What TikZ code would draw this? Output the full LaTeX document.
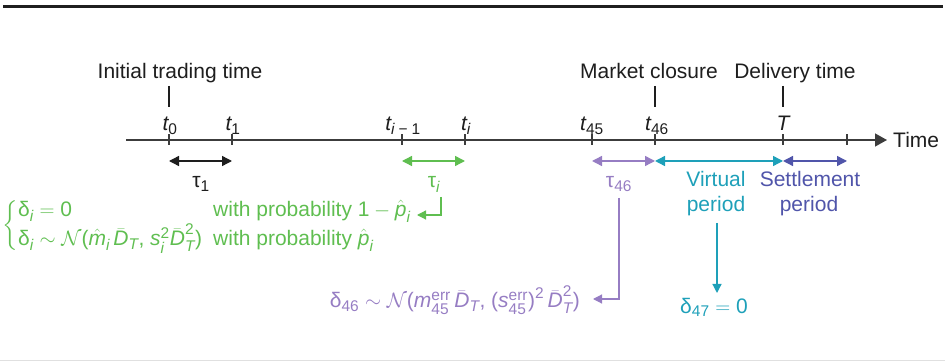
\documentclass[tikz,border=0pt]{standalone}
\usepackage{amsmath}
\usepackage{fontspec}
\setmainfont{Liberation Sans}
\usetikzlibrary{arrows.meta,calc}
\DeclareMathSizes{21}{21}{15.5}{12}
\definecolor{txt}{RGB}{30,30,30}
\definecolor{axc}{RGB}{60,60,60}
\definecolor{cgreen}{RGB}{95,190,80}
\definecolor{cpurple}{RGB}{150,125,195}
\definecolor{cteal}{RGB}{30,160,185}
\definecolor{csettle}{RGB}{80,85,170}
\newcommand\vmi[1]{\text{\itshape #1}}
\newcommand\vmr[1]{\text{#1}}
\begin{document}
\begin{tikzpicture}[x=1pt,y=-1pt,
  every node/.style={font=\fontsize{21}{25}\selectfont, inner sep=0pt, text=txt},
  axisline/.style={draw=axc, line width=1.3pt},
  ticky/.style={draw=axc, line width=1.2pt},
  dbl/.style={line width=1.4pt, {Triangle[length=10pt,width=10pt]}-{Triangle[length=10pt,width=10pt]}},
  conn/.style={draw=txt, line width=1.1pt},
  elbow/.style={line width=1.2pt, -{Triangle[length=9pt,width=9pt]}},
]
\useasboundingbox (0,0) rectangle (945,363);
% frame rules
\draw[line width=2.6pt, draw=black!88] (3,6.5) -- (943,6.5);
\draw[line width=1.5pt, draw=black!12] (0,360.5) -- (945,360.5);

% axis
\coordinate (ax0) at (126,140);
\coordinate (ax1) at (887,140);
\draw[axisline, -{Triangle[length=12pt,width=13pt]}] (ax0) -- (ax1);
\node[anchor=base west] (time) at (893,148) {Time};

\foreach \n/\x in {k0/169,k1/232,k2/402,k3/465,k4/592,k5/655,k6/783,k7/847}{
  \coordinate (\n) at (\x,140);
  \draw[ticky] ($(\n)+(0,-5.5)$) -- ($(\n)+(0,5.5)$);
}

% tick labels
\node[anchor=base] (lt0) at (170,130.5) {$\vmi{t}_{\vmr{0}}$};
\node[anchor=base] (lt1) at (233,130.5) {$\vmi{t}_{\vmr{1}}$};
\node[anchor=base] (lti1) at (403,130.5) {$\vmi{t}_{\vmi{i}\;\vmr{−}\;\vmr{1}}$};
\node[anchor=base] (lti) at (466,130.5) {$\vmi{t}_{\vmi{i}}$};
\node[anchor=base] (lt45) at (592,130.5) {$\vmi{t}_{\vmr{45}}$};
\node[anchor=base] (lt46) at (657,130.5) {$\vmi{t}_{\vmr{46}}$};
\node[anchor=base] (lT) at (783,130.5) {$\vmi{T}$};

% event labels
\node[anchor=base] (init) at (180,79) {Initial trading time};
\node[anchor=base] (mclose) at (649,79) {Market closure};
\node[anchor=base] (deliv) at (795,79) {Delivery time};
\coordinate (v0a) at (169,86); \coordinate (v0b) at (169,107);
\coordinate (v1a) at (655,86); \coordinate (v1b) at (655,107);
\coordinate (v2a) at (783,86); \coordinate (v2b) at (783,107);
\draw[conn] (v0a) -- (v0b);
\draw[conn] (v1a) -- (v1b);
\draw[conn] (v2a) -- (v2b);

% interval arrows
\foreach \n/\x in {d0/169,d1/232,d2/402,d3/465,d4/592,d5/655,d6/783,d7/847}{
  \coordinate (\n) at (\x,161);
}
\draw[dbl, draw=txt] (d0) -- (d1);
\draw[dbl, draw=cgreen] (d2) -- (d3);
\draw[dbl, draw=cpurple] (d4) -- (d5);
\draw[dbl, draw=cteal] (d5) -- (d6);
\draw[dbl, draw=csettle] (d6) -- (d7);

% tau labels
\node[anchor=base] (tau1) at (201,188) {$\vmr{τ}_{\vmr{1}}$};
\node[anchor=base, text=cgreen] (taui) at (434,188) {$\vmr{τ}_{\vmi{i}}$};
\node[anchor=base, text=cpurple] (tau46) at (619,188) {$\vmr{τ}_{\vmr{46}}$};

% green part
\node[anchor=base west, text=cgreen] (prob1) at (213,217) {with probability $\vmr{1} - \hat{\vmi{p}}_{\vmi{i}}$};
\node[anchor=base west, text=cgreen] (prob2) at (213,246) {with probability $\hat{\vmi{p}}_{\vmi{i}}$};
\node[anchor=base west, text=cgreen] (del1) at (18,217) {$\vmr{δ}_{\vmi{i}} = \vmr{0}$};
\node[anchor=base west, text=cgreen] (del2) at (18,246) {$\vmr{δ}_{\vmi{i}} \sim \mathcal{N}\vmr{(}\hat{\vmi{m}}_{\vmi{i}}\,\bar{\vmi{D}}_{\vmi{T}}\vmr{, }\vmi{s}^{\vmr{2}}_{\vmi{i}}\bar{\vmi{D}}^{\vmr{2}}_{\vmi{T}}\vmr{)}$};
\node[anchor=center, text=cgreen] (brace) at (11,227) {$\left\{\vrule height 22pt depth 22pt width 0pt\right.$};
\coordinate (ge1) at (441,197); \coordinate (ge2) at (441,215); \coordinate (ge3) at (417,215);
\draw[elbow, draw=cgreen] (ge1) -- (ge2) -- (ge3);

% purple part
\node[anchor=base east, text=cpurple] (del46) at (580,308) {$\vmr{δ}_{\vmr{46}} \sim \mathcal{N}\vmr{(}\vmi{m}^{\vmr{err}}_{\vmr{45}}\,\bar{\vmi{D}}_{\vmi{T}}\vmr{, (}\vmi{s}^{\vmr{err}}_{\vmr{45}}\vmr{)}^{\vmr{2}}\,\bar{\vmi{D}}^{\vmr{2}}_{\vmi{T}}\vmr{)}$};
\coordinate (pe1) at (619,198); \coordinate (pe2) at (619,299); \coordinate (pe3) at (593,299);
\draw[elbow, draw=cpurple] (pe1) -- (pe2) -- (pe3);

% virtual / settlement
\node[anchor=base, text=cteal] (virt) at (716,187) {Virtual};
\node[anchor=base, text=cteal] (virtp) at (716,212) {period};
\node[anchor=base, text=csettle] (sett) at (810,187) {Settlement};
\node[anchor=base, text=csettle] (settp) at (809,212) {period};
\coordinate (te1) at (717,223); \coordinate (te2) at (717,293);
\draw[elbow, draw=cteal] (te1) -- (te2);
\node[anchor=base, text=cteal] (del47) at (714,313) {$\vmr{δ}_{\vmr{47}} = \vmr{0}$};
\end{tikzpicture}
\end{document}
